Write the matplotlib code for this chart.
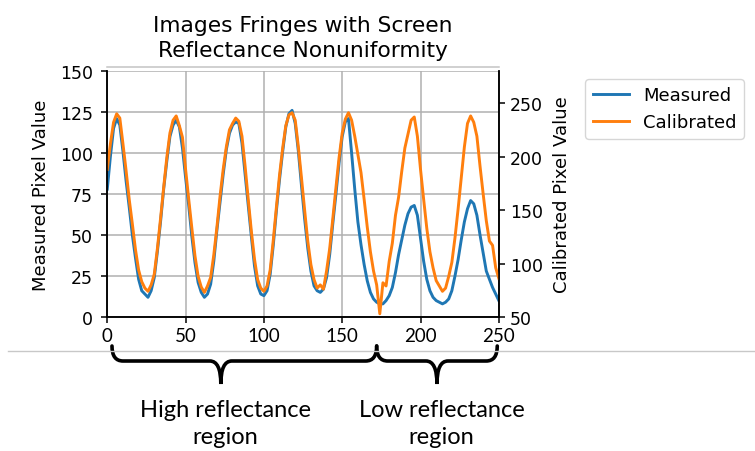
import matplotlib
matplotlib.use("Agg")
import matplotlib.pyplot as plt
from matplotlib.path import Path
from matplotlib.patches import PathPatch
from matplotlib.lines import Line2D
import matplotlib.transforms as mtransforms

# sample position along the fringe profile
x = list(range(0, 251, 2))

# measured pixel value (left axis)
measured = [78, 98, 115, 121, 117, 101, 83, 67, 50, 36,
            23, 16, 14, 12, 16, 24, 40, 58, 78, 95,
            110, 117, 120, 116, 103, 85, 68, 49, 33, 21,
            15, 12, 14, 20, 34, 53, 70, 87, 102, 112,
            117, 119, 118, 106, 87, 68, 49, 31, 19, 14,
            13, 16, 26, 44, 65, 84, 101, 116, 124, 126,
            118, 101, 80, 60, 42, 28, 19, 16, 15, 17,
            24, 38, 57, 75, 94, 110, 119, 121, 100, 78,
            58, 44, 32, 22, 15, 11, 9, 8, 8, 10,
            13, 18, 27, 38, 47, 56, 63, 67, 68, 62,
            48, 34, 23, 16, 12, 10, 9, 8, 9, 11,
            16, 25, 35, 47, 58, 66, 71, 69, 62, 50,
            39, 28, 23, 18, 14, 10]

# calibrated pixel value (right axis)
calibrated = [188, 212, 232, 240, 236, 212, 187, 160, 137, 113,
              94, 83, 77, 74, 80, 90, 114, 142, 171, 199,
              222, 234, 238, 229, 218, 188, 160, 133, 107, 88,
              78, 73, 79, 87, 108, 134, 163, 188, 209, 225,
              231, 236, 233, 219, 191, 160, 130, 104, 85, 77,
              74, 79, 94, 122, 153, 183, 208, 229, 239, 241,
              234, 209, 180, 150, 121, 99, 85, 77, 80, 76,
              93, 114, 142, 171, 199, 222, 235, 241, 234, 219,
              202, 185, 160, 134, 111, 93, 80, 53, 82, 79,
              102, 119, 145, 162, 186, 208, 221, 234, 237, 219,
              188, 160, 133, 111, 96, 84, 79, 74, 77, 88,
              101, 124, 151, 180, 209, 231, 238, 232, 219, 191,
              165, 140, 121, 117, 96, 86]

high_region = (3, 172)
low_region = (172, 249)
# where each brace tip points
high_point = 72.5
low_point = 210.5

note_font = "Lato"

fig = plt.figure(figsize=(7.55, 4.52), dpi=100)
ax = fig.add_axes([0.1421, 0.2965, 0.5186, 0.5442])
ax2 = ax.twinx()

# faint top border sits a little above the plot area
ax2.spines["top"].set_visible(False)
ax.spines["top"].set_color("#c4c4c4")
ax.spines["top"].set_position(("axes", 1.016))
for s in list(ax.spines.values()) + list(ax2.spines.values()):
    s.set_linewidth(1.1)

l1, = ax.plot(x, measured, color="#1f77b4", lw=2.1, label="Measured")
l2, = ax2.plot(x, calibrated, color="#ff7f0e", lw=2.1, label="Calibrated")

ax.set_xlim(0, 250)
ax.set_ylim(0, 150)
ax2.set_ylim(50, 280)
ax.set_yticks([0, 25, 50, 75, 100, 125, 150])
ax2.set_yticks([50, 100, 150, 200, 250])
ax.set_xticks([0, 50, 100, 150, 200, 250])
ax.grid(True, color="#b0b0b0", lw=1.1)

ax.tick_params(axis="y", labelsize=12.5, length=4.5, width=1.1, pad=6)
ax2.tick_params(axis="y", labelsize=12.5, length=4.5, width=1.1)
ax.tick_params(axis="x", length=4.5, width=1.1, pad=3,
               labelsize=13.5, labelfontfamily=note_font)

ax.set_ylabel("Measured Pixel Value", fontsize=13, labelpad=7)
ax2.set_ylabel("Calibrated Pixel Value", fontsize=13, labelpad=7)
ax.set_title("Images Fringes with Screen\nReflectance Nonuniformity", fontsize=15.7,
             pad=11, linespacing=1.3)

ax2.legend([l1, l2], ["Measured", "Calibrated"], loc="upper left",
           bbox_to_anchor=(1.221, 0.967), borderaxespad=0, fontsize=13)

# separator line under the plot
fig.add_artist(Line2D([8 / 755, 1.0], [1 - 352 / 452] * 2, color="#c8c8c8", lw=1))

# curly braces marking the two regions (x in data, y in figure fraction)
trans = mtransforms.blended_transform_factory(ax.transData, fig.transFigure)
y_top, y_mid, y_bot = 1 - 347 / 452, 1 - 362 / 452, 1 - 385 / 452
r = 7


def brace(x0, x1, xc):
    verts = [(x0, y_top), (x0, y_mid), (x0 + r, y_mid),
             (xc - r, y_mid), (xc, y_mid), (xc, y_bot),
             (xc, y_mid), (xc + r, y_mid),
             (x1 - r, y_mid), (x1, y_mid), (x1, y_top)]
    codes = [Path.MOVETO, Path.CURVE3, Path.CURVE3,
             Path.LINETO, Path.CURVE3, Path.CURVE3,
             Path.CURVE3, Path.CURVE3,
             Path.LINETO, Path.CURVE3, Path.CURVE3]
    p = PathPatch(Path(verts, codes), transform=trans, fill=False,
                  lw=2.6, color="black", clip_on=False, capstyle="round")
    fig.add_artist(p)


for reg, pt, txt in [(high_region, high_point, "High reflectance\nregion"),
                     (low_region, low_point, "Low reflectance\nregion")]:
    brace(reg[0], reg[1], pt)
    fig.text(pt + 3, 1 - 424 / 452, txt, transform=trans, ha="center", va="center",
             fontsize=17, family=note_font, linespacing=1.4)

fig.savefig("out.png", dpi=100)
